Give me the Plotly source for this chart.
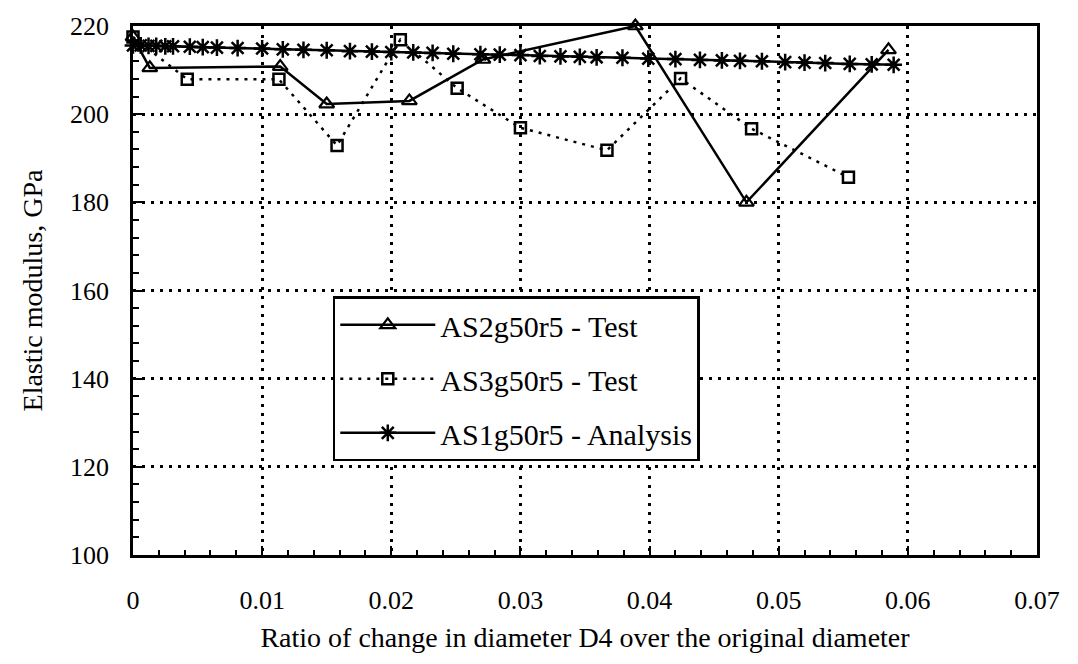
import plotly.graph_objects as go

# Ratio of change in diameter D4 over the original diameter
as2_x = [0.0, 0.0013, 0.0114, 0.0150, 0.0214, 0.0271, 0.0389, 0.0475, 0.0585]
as2_y = [217.5, 210.5, 210.8, 202.3, 203.0, 212.4, 220.0, 180.0, 214.6]

as3_x = [0.0, 0.0042, 0.0113, 0.0158, 0.0207, 0.0251, 0.0300, 0.0367, 0.0424, 0.0479, 0.0554]
as3_y = [217.5, 207.9, 207.9, 192.9, 216.9, 205.9, 196.9, 191.8, 208.1, 196.7, 185.7]

as1_x = [0.0, 0.0006, 0.0012, 0.0018, 0.0025, 0.0031, 0.0044, 0.0054, 0.0065, 0.0081,
         0.0100, 0.0116, 0.0132, 0.0150, 0.0168, 0.0185, 0.0200, 0.0217, 0.0232, 0.0248,
         0.0269, 0.0284, 0.0300, 0.0315, 0.0331, 0.0346, 0.0359, 0.0379, 0.0399, 0.0420,
         0.0439, 0.0456, 0.0470, 0.0487, 0.0505, 0.0520, 0.0536, 0.0555, 0.0572, 0.0589]
as1_y = [215.6, 215.6, 215.5, 215.5, 215.4, 215.4, 215.3, 215.2, 215.1, 215.0,
         214.9, 214.7, 214.6, 214.5, 214.3, 214.2, 214.1, 214.0, 213.9, 213.7,
         213.6, 213.5, 213.4, 213.2, 213.1, 213.0, 212.9, 212.8, 212.6, 212.5,
         212.3, 212.2, 212.1, 212.0, 211.8, 211.7, 211.6, 211.4, 211.3, 211.2]

x_ticks = [0, 0.01, 0.02, 0.03, 0.04, 0.05, 0.06, 0.07]
x_labels = ["0", "0.01", "0.02", "0.03", "0.04", "0.05", "0.06", "0.07"]
y_ticks = [100, 120, 140, 160, 180, 200, 220]

FONT = "Liberation Serif, Times New Roman, serif"
DOT = "3px,6px"

fig = go.Figure()
fig.add_trace(go.Scatter(
    x=as2_x, y=as2_y, name="AS2g50r5 - Test", mode="lines+markers",
    legendgroup="a",
    line=dict(color="black", width=2.5),
    marker=dict(symbol="triangle-up-open", size=13, color="black", line=dict(width=2.2)),
    cliponaxis=False,
))
fig.add_trace(go.Scatter(
    x=as3_x, y=as3_y, name="AS3g50r5 - Test", mode="lines+markers",
    legendgroup="b",
    line=dict(color="black", width=2.5, dash=DOT),
    marker=dict(symbol="square-open", size=11, color="black", line=dict(width=2.5)),
    cliponaxis=False,
))
fig.add_trace(go.Scatter(
    x=as1_x, y=as1_y, name="AS1g50r5 - Analysis", mode="lines+markers",
    legendgroup="c",
    line=dict(color="black", width=2.5),
    marker=dict(symbol="asterisk-open", size=14, color="black", line=dict(width=2.5)),
    cliponaxis=False,
))

axis_common = dict(
    showline=True, linecolor="black", linewidth=2.5, mirror=True,
    showgrid=True, gridcolor="black", gridwidth=2.5, griddash=DOT,
    zeroline=False, ticks="inside", ticklen=9, tickwidth=2, tickcolor="black",
    tickfont=dict(family=FONT, size=26, color="black"),
)

fig.update_xaxes(
    range=[0, 0.07], tickvals=x_ticks, ticktext=x_labels,
    ticklabelstandoff=20,
    title=dict(text="Ratio of change in diameter D4 over the original diameter",
               font=dict(family=FONT, size=28, color="black"), standoff=14),
    minor=dict(dtick=0.002, ticks="inside", ticklen=5, tickwidth=2, tickcolor="black",
               showgrid=False),
    **axis_common,
)
fig.update_yaxes(
    range=[100, 220], tickvals=y_ticks,
    ticklabelstandoff=16,
    title=dict(text="Elastic modulus, GPa",
               font=dict(family=FONT, size=28, color="black"), standoff=20),
    minor=dict(dtick=4, ticks="inside", ticklen=6, tickwidth=2, tickcolor="black",
               showgrid=False),
    **axis_common,
)

fig.update_layout(
    width=1078, height=664,
    margin=dict(l=133, r=41, t=19, b=109),
    paper_bgcolor="white", plot_bgcolor="white",
    font=dict(family=FONT, color="black"),
    showlegend=True,
    legend=dict(
        x=0.221, y=0.489, xanchor="left", yanchor="top",
        bgcolor="white", bordercolor="black", borderwidth=2.5,
        font=dict(family=FONT, size=30, color="black"),
        itemwidth=95, tracegroupgap=12,
    ),
)

fig.write_html("out.html")
